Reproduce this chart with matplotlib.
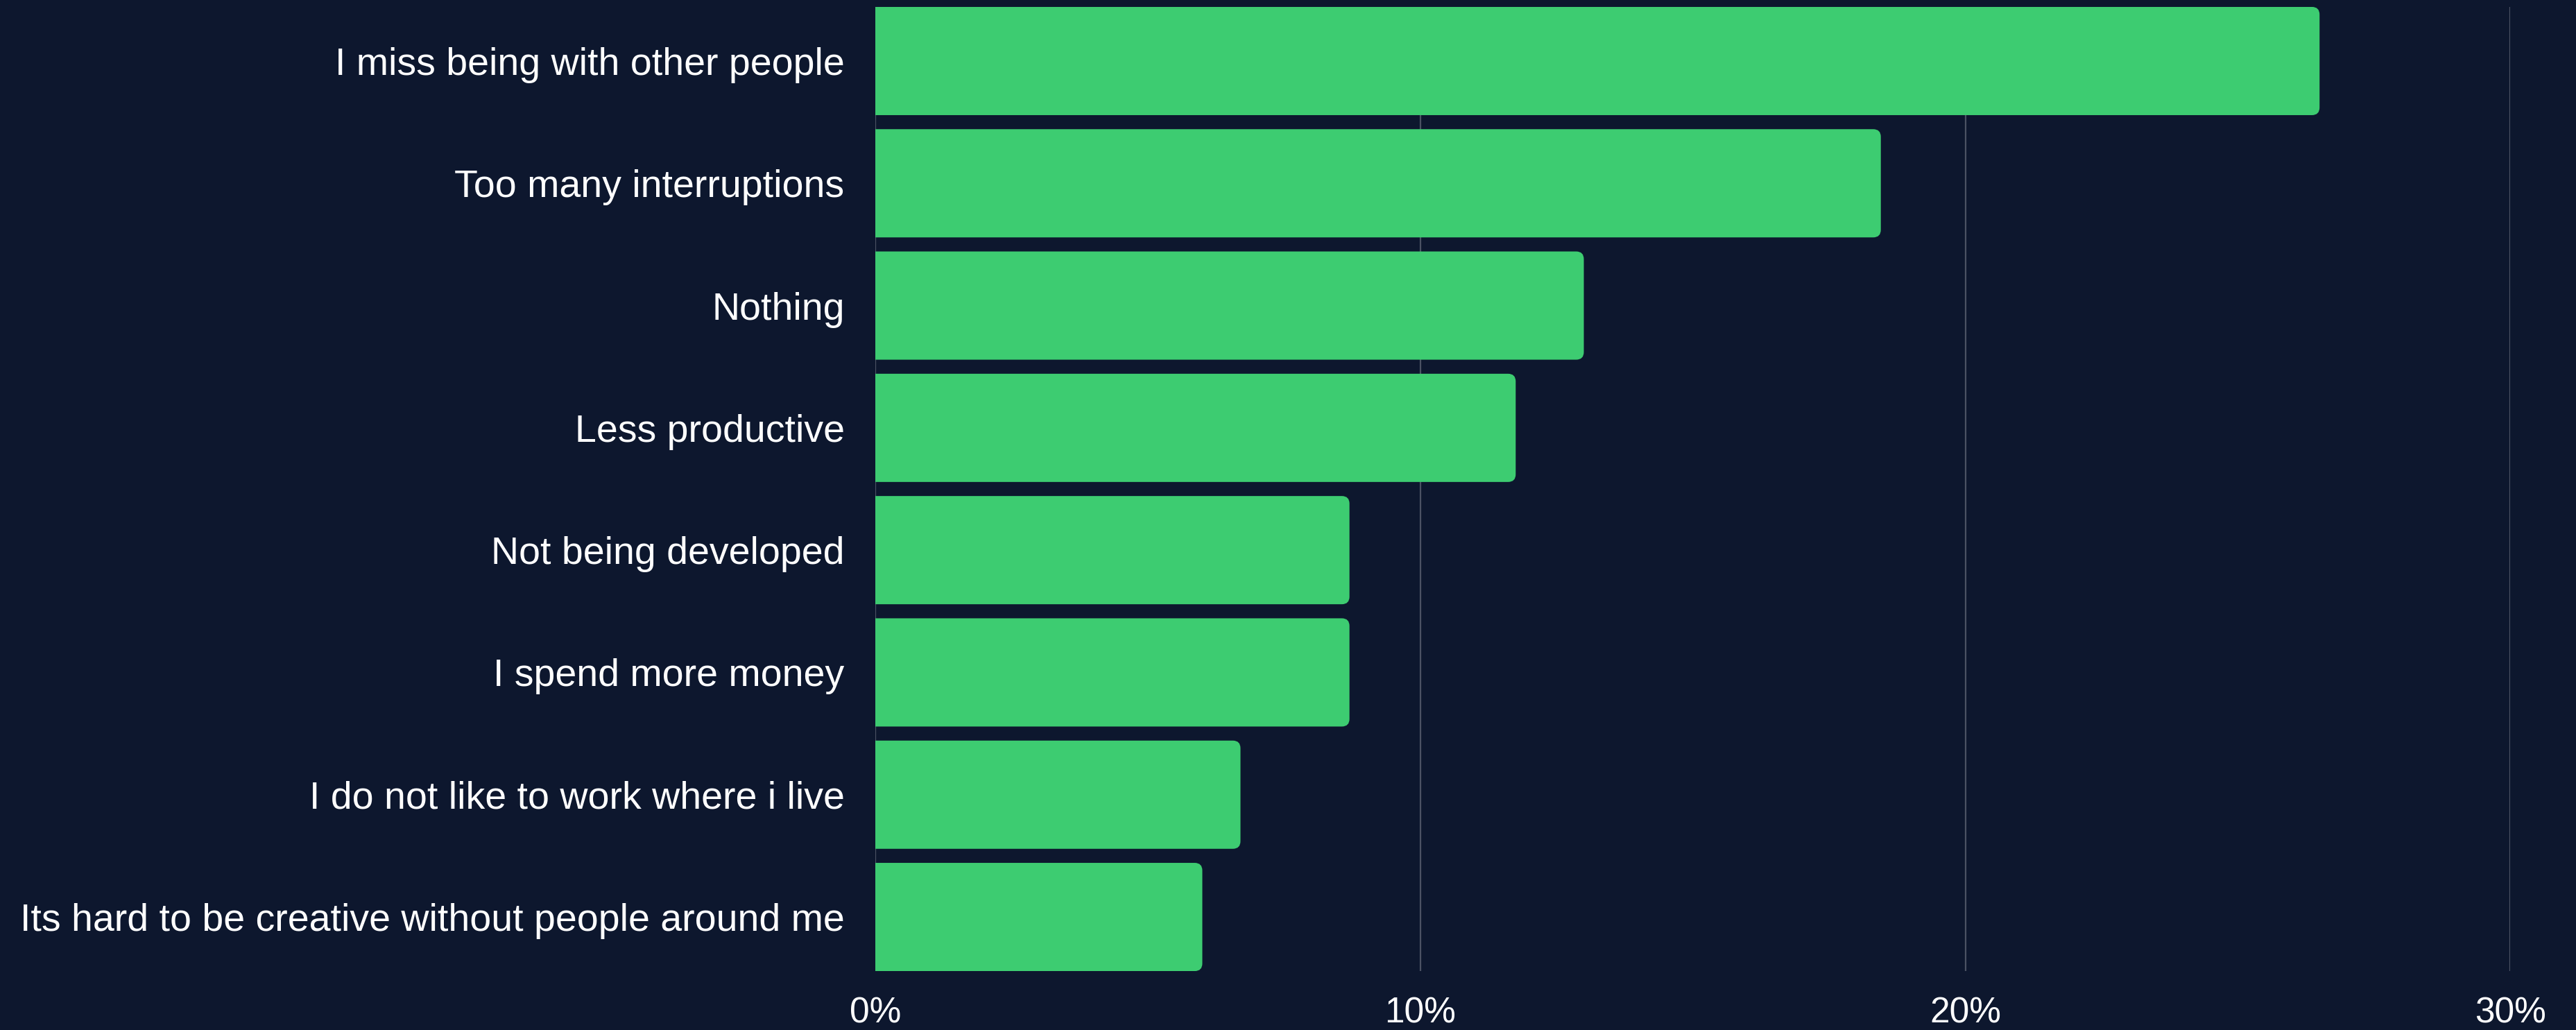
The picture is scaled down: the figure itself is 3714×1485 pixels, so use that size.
"""Horizontal bar chart: downsides of working from home."""
import matplotlib.pyplot as plt
from matplotlib.patches import FancyBboxPatch
from matplotlib.ticker import FuncFormatter

categories = [
    "I miss being with other people",
    "Too many interruptions",
    "Nothing",
    "Less productive",
    "Not being developed",
    "I spend more money",
    "I do not like to work where i live",
    "Its hard to be creative without people around me",
]
shares = [26.5, 18.45, 13.0, 11.75, 8.7, 8.7, 6.7, 6.0]
x_ticks = [0, 10, 20, 30]

bg = "#0d172e"
bar_color = "#3dcc71"
grid_color = "#4b5263"
text_color = "white"

plt.rcParams["font.family"] = ["Liberation Sans", "DejaVu Sans"]

fig = plt.figure(figsize=(37.14, 14.85), dpi=100, facecolor=bg)
ax = fig.add_axes([0.3398, 0.0572, 0.9745 - 0.3398, 0.9933 - 0.0572])
ax.set_facecolor(bg)

bar_h = 0.885
ypos = list(range(len(categories)))
bars = ax.barh(ypos, shares, height=bar_h, color=bar_color, zorder=2)

ax.set_xlim(0, 30)
ax.set_ylim(len(categories) - 1 + bar_h / 2, -bar_h / 2)

# rounded right ends: same radius in pixels along x and y
radius_px = 11
fig.canvas.draw()
px_x = ax.transData.transform((1, 0))[0] - ax.transData.transform((0, 0))[0]
px_y = abs(ax.transData.transform((0, 1))[1] - ax.transData.transform((0, 0))[1])
rx = radius_px / px_x
aspect = (radius_px / px_y) / rx

for b in bars:
    x0, y0, w, h = b.get_x(), b.get_y(), b.get_width(), b.get_height()
    b.set_visible(False)
    # start left of zero so the left corners get clipped off by the axes
    patch = FancyBboxPatch((x0 - rx, y0), w + rx, h,
                           boxstyle=f"round,pad=0,rounding_size={rx}",
                           mutation_aspect=aspect, facecolor=bar_color,
                           edgecolor="none", zorder=2)
    ax.add_patch(patch)

ax.set_xticks(x_ticks)
ax.xaxis.set_major_formatter(FuncFormatter(lambda v, p: f"{v:.0f}%"))
ax.set_yticks(ypos)
ax.set_yticklabels(categories)

ax.grid(axis="x", color=grid_color, linewidth=1.6, zorder=0)
ax.grid(axis="y", visible=False)
ax.tick_params(axis="x", length=0, pad=26, labelsize=37, labelcolor=text_color)
ax.tick_params(axis="y", length=0, pad=32, labelsize=40, labelcolor=text_color)
for s in ax.spines.values():
    s.set_visible(False)

fig.savefig("out.png", dpi=100, facecolor=bg)
